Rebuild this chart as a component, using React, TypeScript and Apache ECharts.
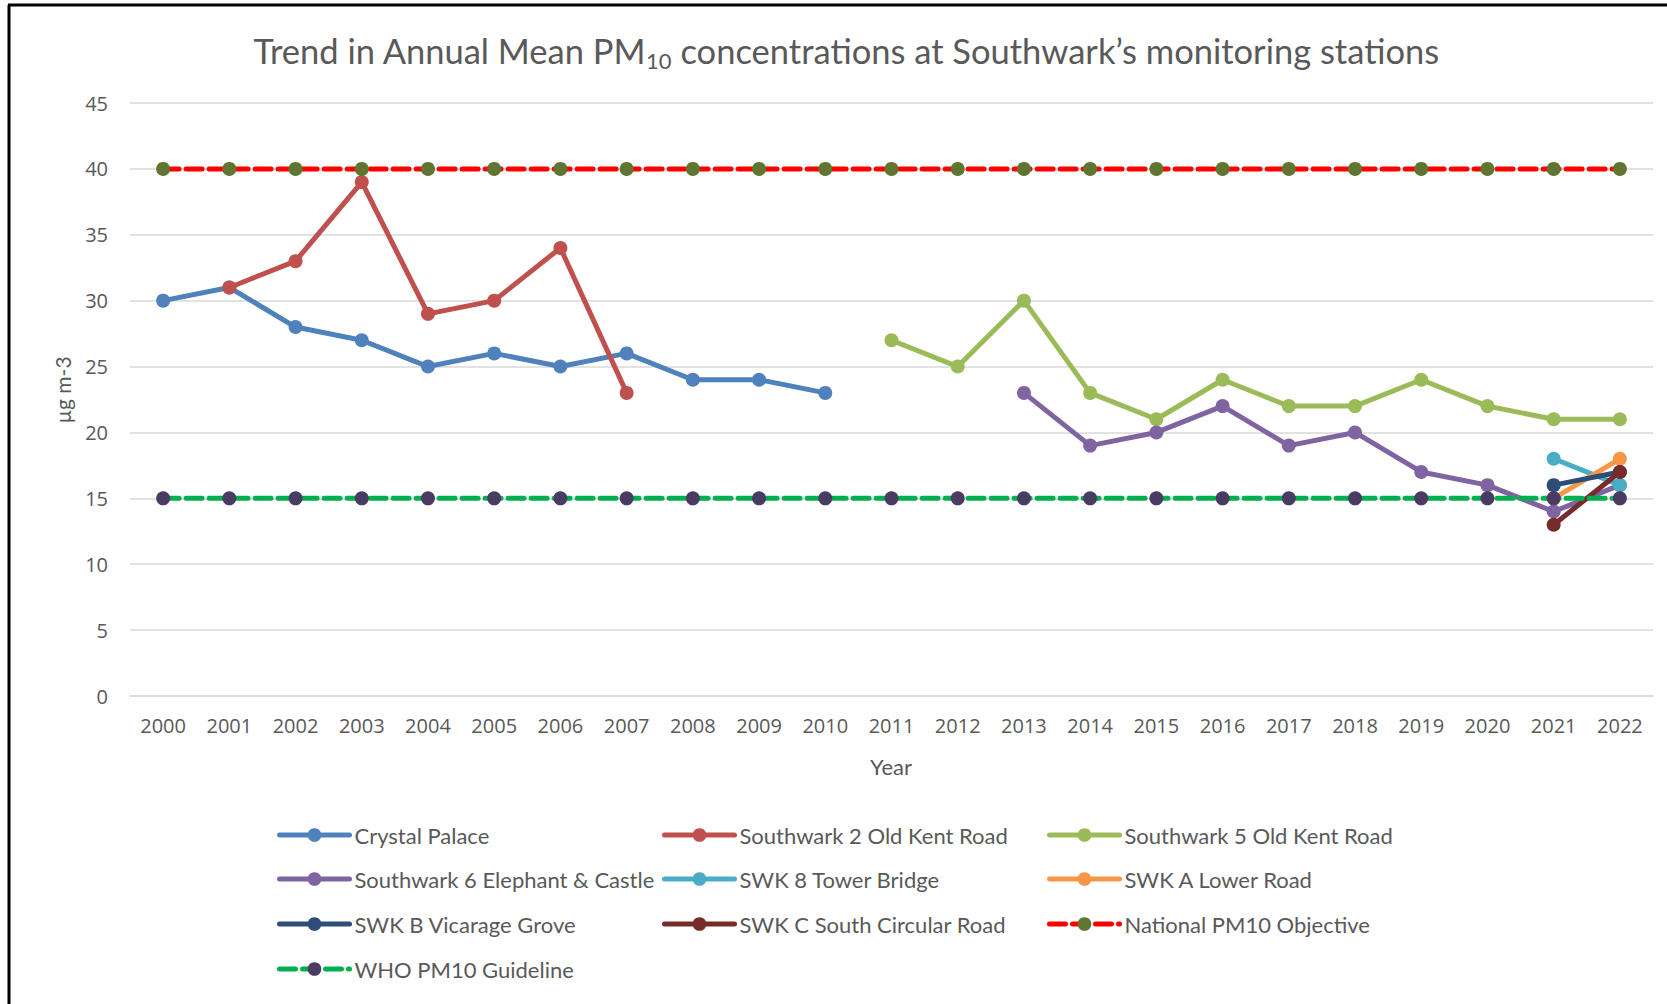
import React, { useEffect, useRef } from "react";
import * as echarts from "echarts";

const years = ["2000","2001","2002","2003","2004","2005","2006","2007","2008","2009","2010","2011","2012","2013","2014","2015","2016","2017","2018","2019","2020","2021","2022"];
const yTicks = [0, 5, 10, 15, 20, 25, 30, 35, 40, 45];

const crystalPalace = [30,31,28,27,25,26,25,26,24,24,23,null,null,null,null,null,null,null,null,null,null,null,null];
const sw2OldKent = [null,31,33,39,29,30,34,23,null,null,null,null,null,null,null,null,null,null,null,null,null,null,null];
const sw5OldKent = [null,null,null,null,null,null,null,null,null,null,null,27,25,30,23,21,24,22,22,24,22,21,21];
const sw6Elephant = [null,null,null,null,null,null,null,null,null,null,null,null,null,23,19,20,22,19,20,17,16,14,16];
const swk8Tower = [null,null,null,null,null,null,null,null,null,null,null,null,null,null,null,null,null,null,null,null,null,18,16];
const swkALower = [null,null,null,null,null,null,null,null,null,null,null,null,null,null,null,null,null,null,null,null,null,15,18];
const swkBVicarage = [null,null,null,null,null,null,null,null,null,null,null,null,null,null,null,null,null,null,null,null,null,16,17];
const swkCSouthCircular = [null,null,null,null,null,null,null,null,null,null,null,null,null,null,null,null,null,null,null,null,null,13,17];
const nationalObjective = [40,40,40,40,40,40,40,40,40,40,40,40,40,40,40,40,40,40,40,40,40,40,40];
const whoGuideline = [15,15,15,15,15,15,15,15,15,15,15,15,15,15,15,15,15,15,15,15,15,15,15];

const seriesNames = [
  "Crystal Palace",
  "Southwark 2 Old Kent Road",
  "Southwark 5 Old Kent Road",
  "Southwark 6 Elephant & Castle",
  "SWK 8 Tower Bridge",
  "SWK A Lower Road",
  "SWK B Vicarage Grove",
  "SWK C South Circular Road",
  "National PM10 Objective",
  "WHO PM10 Guideline",
];
const seriesData = [crystalPalace, sw2OldKent, sw5OldKent, sw6Elephant, swk8Tower, swkALower, swkBVicarage, swkCSouthCircular, nationalObjective, whoGuideline];
const lineColors = ["#4F81BD","#C0504D","#9BBB59","#8064A2","#4BACC6","#F79646","#2C4D75","#772C2A","#FF0000","#00B050"];
const markerColors = ["#4F81BD","#C0504D","#9BBB59","#8064A2","#4BACC6","#F79646","#2C4D75","#772C2A","#5F7530","#4A3B62"];
const dashed = [false,false,false,false,false,false,false,false,true,true];

const TEXT = "#595959";
const CAL = "Lato, 'Open Sans', sans-serif";
const TICKF = "'Open Sans', 'Noto Sans', sans-serif";

const legendCols = [277, 662, 1047];
const legendRows = [837, 881, 926, 971];

export default function App() {
  const ref = useRef<HTMLDivElement>(null);
  useEffect(() => {
    if (!ref.current) return;
    const chart = echarts.init(ref.current, undefined, { renderer: "svg" });
    const series = seriesNames.map((name, i) => ({
      name,
      type: "line",
      data: seriesData[i],
      symbol: "circle",
      symbolSize: 14,
      showAllSymbol: true,
      connectNulls: false,
      lineStyle: { color: lineColors[i], width: 5, type: dashed[i] ? [16, 7] : "solid", cap: "round" },
      itemStyle: { color: markerColors[i], borderWidth: 0 },
      emphasis: { disabled: true },
      z: 2 + i,
    }));
    const legends = seriesNames.map((name, i) => ({
      data: [name],
      left: legendCols[i % 3],
      top: legendRows[Math.floor(i / 3)] - 13,
      padding: 0,
      itemWidth: 70,
      itemHeight: 17,
      itemGap: 0,
      selectedMode: false,
      lineStyle: { width: 5, cap: "round" },
      textStyle: { color: TEXT, fontSize: 22, fontFamily: CAL, padding: [0, 0, 0, 0] },
    }));
    chart.setOption({
      animation: false,
      backgroundColor: "#ffffff",
      grid: { left: 130, right: 14, top: 103, bottom: 308, containLabel: false },
      xAxis: {
        type: "category",
        data: years,
        boundaryGap: true,
        axisLine: { show: true, lineStyle: { color: "#D9D9D9", width: 1.5 } },
        axisTick: { show: false },
        axisLabel: { color: TEXT, fontSize: 20, fontFamily: TICKF, margin: 19, interval: 0 },
        splitLine: { show: false },
      },
      yAxis: {
        type: "value",
        min: 0,
        max: 45,
        interval: 5,
        axisLine: { show: false },
        axisTick: { show: false },
        axisLabel: { color: TEXT, fontSize: 20, fontFamily: TICKF, margin: 22, formatter: (v: number) => (yTicks.includes(v) ? String(v) : "") },
        splitLine: { show: true, lineStyle: { color: "#D9D9D9", width: 1.5 } },
      },
      legend: legends,
      series,
      graphic: [
        {
          type: "text",
          x: 846,
          y: 50,
          style: {
            text: "{a|Trend in Annual Mean PM}{s|10}{a| concentrations at Southwark\u2019s monitoring stations}",
            align: "center",
            verticalAlign: "middle",
            rich: {
              a: { fontSize: 34.5, fontFamily: CAL, fill: TEXT, lineHeight: 42 },
              s: { fontSize: 22, fontFamily: CAL, fill: TEXT, lineHeight: 22, padding: [20, 0, 0, 0] },
            },
          },
        },
        {
          type: "text",
          x: 62,
          y: 390,
          rotation: Math.PI / 2,
          style: { text: "\u00B5g m-3", fontSize: 21, fontFamily: CAL, fill: TEXT, align: "center", verticalAlign: "middle" },
        },
        {
          type: "text",
          x: 891,
          y: 766,
          style: { text: "Year", fontSize: 22, fontFamily: CAL, fill: TEXT, align: "center", verticalAlign: "middle" },
        },
        { type: "line", shape: { x1: 9, y1: 5, x2: 9, y2: 1010 }, style: { stroke: "#000", lineWidth: 3 } },
        { type: "line", shape: { x1: 8, y1: 5, x2: 1670, y2: 5 }, style: { stroke: "#000", lineWidth: 3 } },
      ],
    });
    return () => chart.dispose();
  }, []);
  return <div ref={ref} style={{ position: "absolute", left: 0, top: 0, width: 1667, height: 1004 }} />;
}
